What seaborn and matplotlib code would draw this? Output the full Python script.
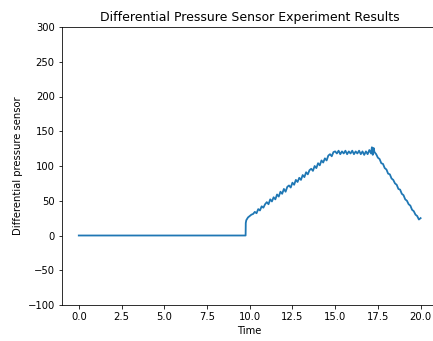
import numpy as np
import pandas as pd
import seaborn as sns
import matplotlib
matplotlib.use('Agg')
import matplotlib.pyplot as plt

# time (s) and differential pressure readings
time = [0.0, 9.76, 9.77, 9.8, 9.9, 10.0, 10.1, 10.2,
        10.3, 10.4, 10.5, 10.6, 10.7, 10.8, 10.9, 11.0, 11.1, 11.2,
        11.3, 11.4, 11.5, 11.6, 11.7, 11.8, 11.9, 12.0, 12.1, 12.2,
        12.3, 12.4, 12.5, 12.6, 12.7, 12.8, 12.9, 13.0, 13.1, 13.2,
        13.3, 13.4, 13.5, 13.6, 13.7, 13.8, 13.9, 14.0, 14.1, 14.2,
        14.3, 14.4, 14.5, 14.6, 14.7, 14.8, 14.9, 15.0,
        15.1, 15.2, 15.3, 15.4, 15.5, 15.6, 15.7, 15.8, 15.9, 16.0,
        16.1, 16.2, 16.3, 16.4, 16.5, 16.6, 16.7, 16.8, 16.9, 17.0,
        17.1, 17.15, 17.2, 17.25, 17.3,
        17.4, 17.5, 17.6, 17.7, 17.8, 17.9, 18.0, 18.1, 18.2, 18.3,
        18.4, 18.5, 18.6, 18.7, 18.8, 18.9, 19.0, 19.1, 19.2, 19.3,
        19.4, 19.5, 19.6, 19.7, 19.8, 19.9, 20.0]
pressure = [0, 0, 18, 22, 26, 28, 30, 31,
            34, 32, 38, 36, 42, 40, 45, 48, 45, 52,
            49, 55, 52, 59, 56, 63, 60, 67, 63, 70,
            72, 69, 76, 73, 80, 77, 83, 80, 87, 84,
            91, 88, 94, 96, 93, 100, 97, 104, 101, 108,
            105, 111, 108, 115, 117, 114, 120, 121,
            118, 122, 117, 121, 118, 122, 117, 121, 118, 122,
            117, 121, 118, 122, 117, 121, 116, 121, 117, 123,
            118, 127, 116, 126, 120,
            117, 112, 110, 104, 103, 97, 95, 89, 88, 82,
            80, 75, 73, 67, 66, 60, 58, 52, 50, 45,
            43, 37, 35, 30, 28, 23, 25]

df = pd.DataFrame({'Time': time, 'Differential pressure sensor': pressure})

fig = plt.figure(figsize=(433 / 72, 341 / 72), dpi=72)
ax = fig.add_axes([61.7 / 433, 1 - 305 / 341, (437.7 - 61.7) / 433, (305 - 27) / 341])

sns.lineplot(data=df, x='Time', y='Differential pressure sensor', ax=ax, color='#1f77b4', linewidth=1.8)

ax.set_ylim(-100, 300)
ax.set_xlim(-1, 21)
ax.set_title('Differential Pressure Sensor Experiment Results', fontsize=12.5)

fig.savefig('out.png', dpi=72)
